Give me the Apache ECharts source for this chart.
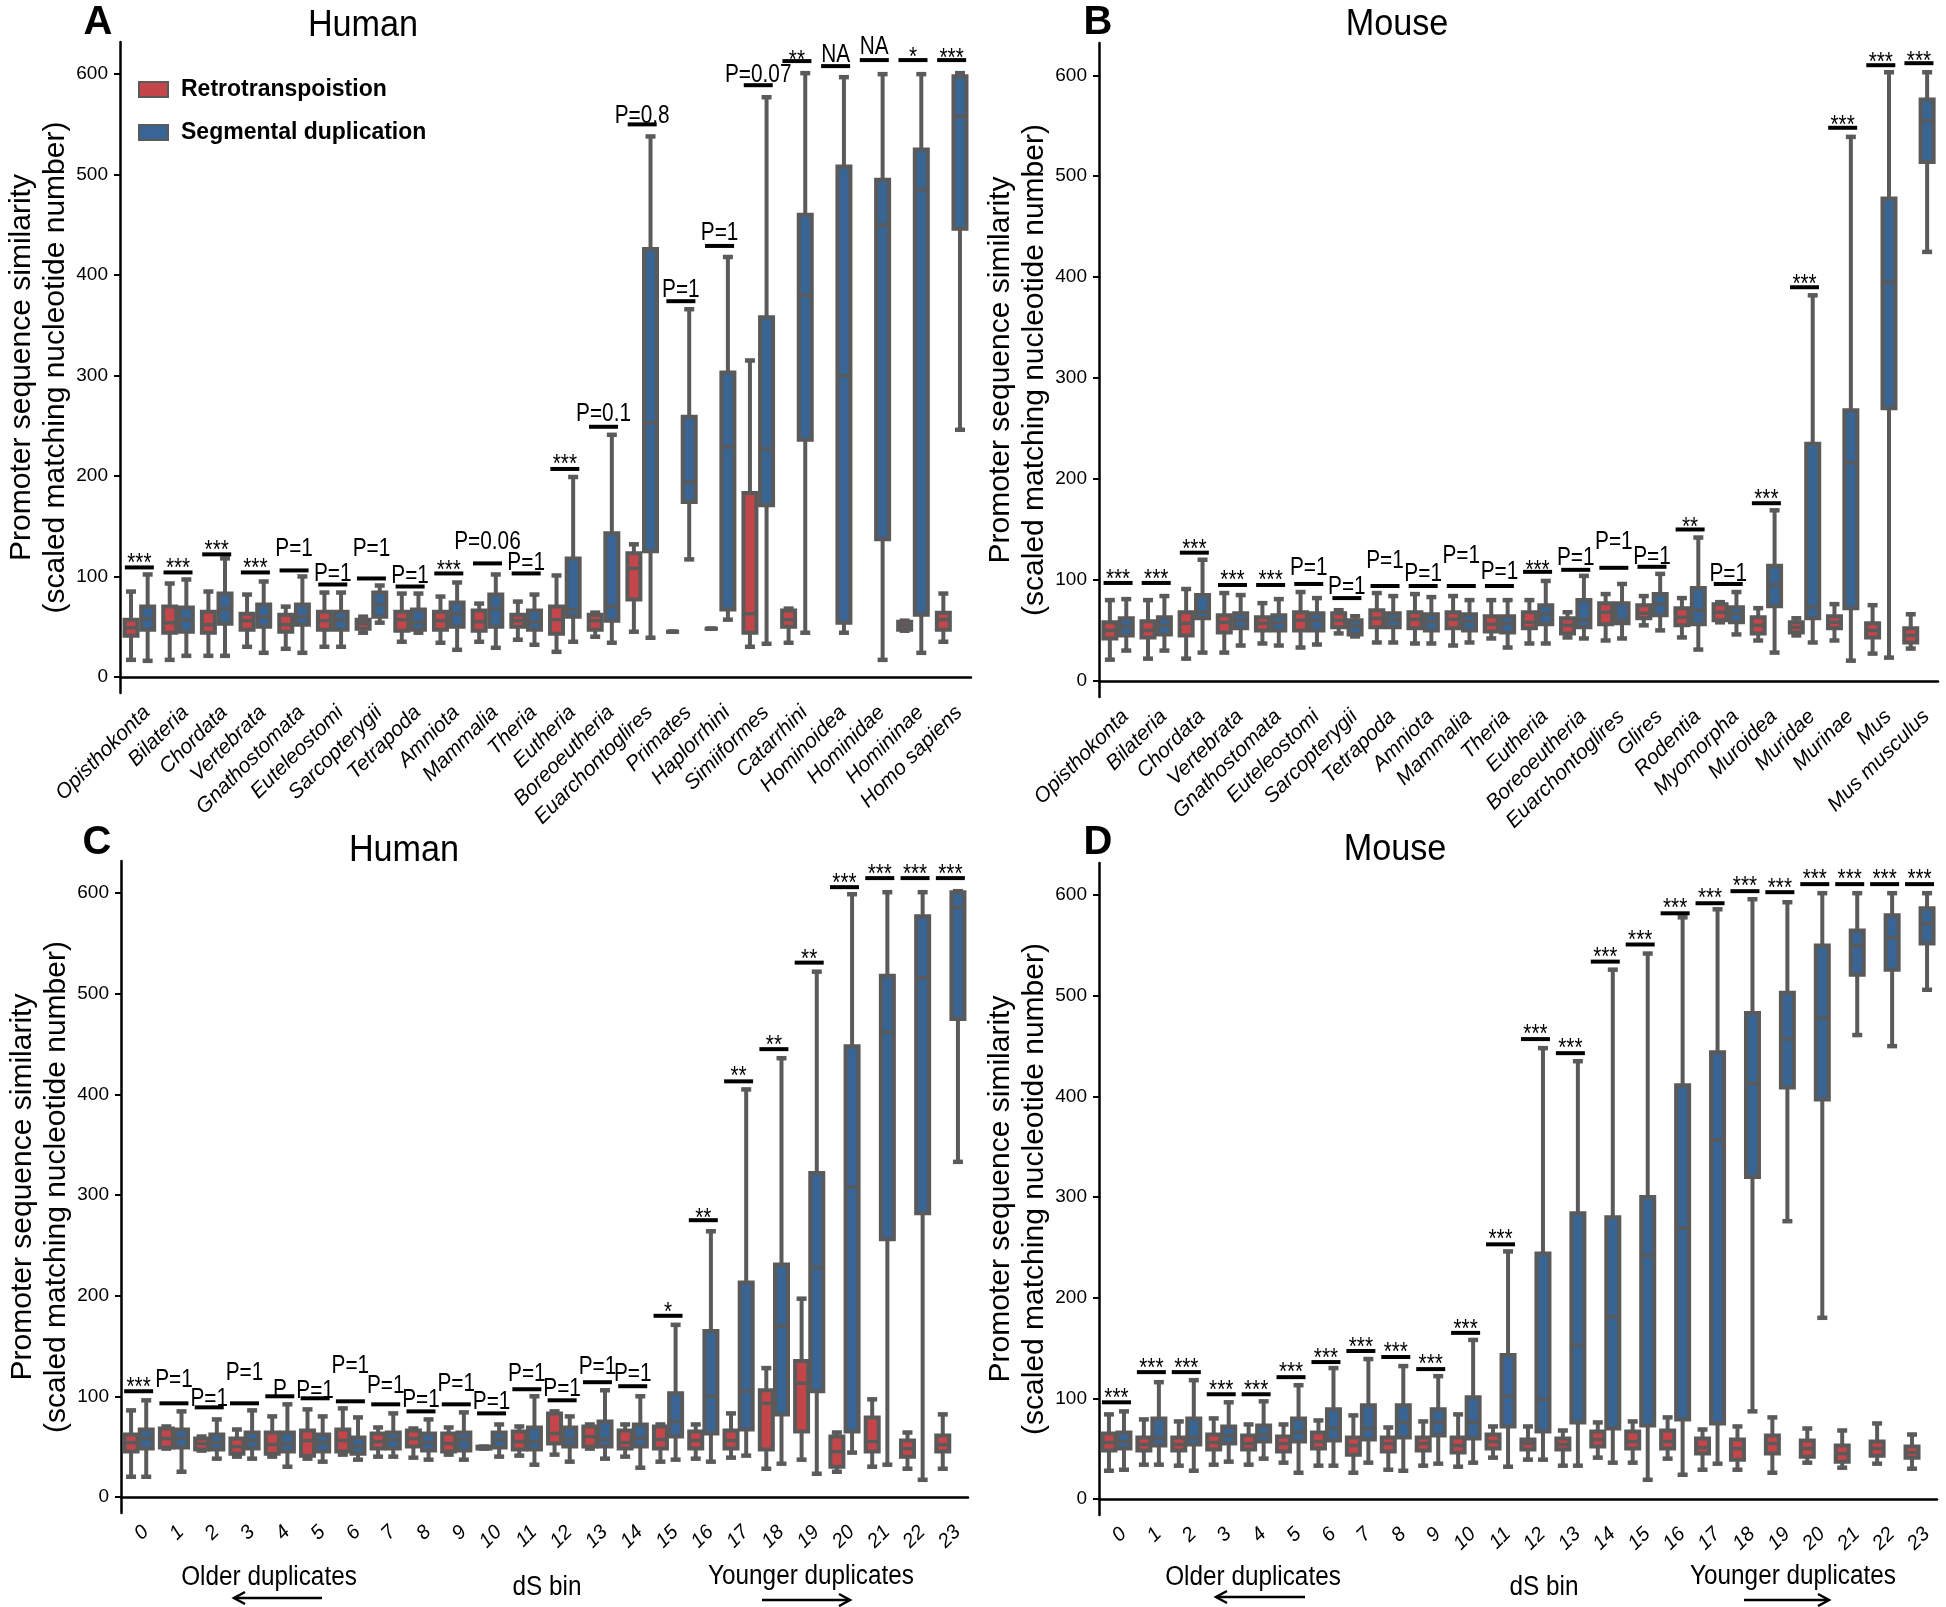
<!DOCTYPE html>
<html><head><meta charset="utf-8">
<script src="https://cdn.jsdelivr.net/npm/echarts@6/dist/echarts.min.js"></script>
<style>html,body{margin:0;padding:0;background:#fff}#c{width:1946px;height:1607px}</style>
</head><body><div id="c"></div>
<script>
// ---------- categories ----------
const catsA = ['Opisthokonta','Bilateria','Chordata','Vertebrata','Gnathostomata','Euteleostomi','Sarcopterygii','Tetrapoda','Amniota','Mammalia','Theria','Eutheria','Boreoeutheria','Euarchontoglires','Primates','Haplorrhini','Simiiformes','Catarrhini','Hominoidea','Hominidae','Homininae','Homo sapiens'];
const catsB = ['Opisthokonta','Bilateria','Chordata','Vertebrata','Gnathostomata','Euteleostomi','Sarcopterygii','Tetrapoda','Amniota','Mammalia','Theria','Eutheria','Boreoeutheria','Euarchontoglires','Glires','Rodentia','Myomorpha','Muroidea','Muridae','Murinae','Mus','Mus musculus'];
const binsCD = ['0','1','2','3','4','5','6','7','8','9','10','11','12','13','14','15','16','17','18','19','20','21','22','23'];
const yTicks = [0,100,200,300,400,500,600];

// ---------- box values: [min, Q1, median, Q3, max] ----------
const retroA = [[17,41,49,57,85],[17,44,54,70,93],[21,44,52,65,85],[30,47,56,63,82],[28,45,52,62,70],[30,47,56,65,84],[44,48,53,57,60],[35,46,57,65,83],[34,47,56,65,80],[35,46,55,66,73],[37,50,56,62,75],[25,43,57,70,101],[40,47,56,62,64],[45,77,108,123,132],[45,45,45,45,45],[48,48,48,48,48],[30,44,63,183,315],[34,50,57,66,68],null,null,[46,47,51,55,56],[35,47,57,64,83]];
const segA = [[16,47,58,70,102],[21,45,57,69,97],[21,53,68,83,118],[24,50,60,72,95],[24,52,60,72,100],[30,47,57,65,84],[54,60,72,84,91],[44,47,54,67,83],[27,50,63,74,94],[29,50,68,82,102],[32,47,55,66,82],[35,60,67,118,199],[34,56,70,143,241],[39,125,253,426,538],[117,174,194,259,366],[57,67,229,303,418],[33,171,227,358,577],[44,236,380,460,601],[44,54,300,508,597],[17,137,450,495,600],[24,62,485,525,600],[246,446,558,598,601]];

const retroB = [[21,42,50,58,80],[22,43,50,59,80],[22,45,57,68,91],[28,48,58,65,87],[37,50,57,63,77],[33,50,60,68,88],[47,53,60,67,70],[38,53,62,70,87],[37,52,61,68,86],[35,52,61,68,84],[42,49,56,64,80],[37,52,58,68,80],[43,47,55,62,68],[40,56,68,77,86],[55,62,67,75,84],[43,55,63,72,82],[58,60,68,76,78],[40,47,55,63,72],[45,48,53,58,62],[40,52,58,64,76],[27,43,50,57,75],[32,38,45,52,66]];
const segB = [[30,45,54,62,81],[30,46,55,63,84],[28,62,68,85,120],[35,52,60,67,85],[35,50,58,65,81],[36,50,60,67,82],[44,46,54,60,64],[38,53,61,67,84],[37,50,59,66,83],[38,50,59,66,80],[33,48,57,64,80],[37,56,66,75,99],[42,53,60,80,104],[42,57,60,77,96],[50,65,76,86,106],[31,56,70,92,142],[46,58,66,73,88],[28,74,95,114,169],[38,62,73,235,382],[20,72,216,268,539],[23,270,395,478,603],[425,514,555,576,603]];

const retroC = [[20,45,54,62,86],[48,49,58,68,70],[46,47,53,58,60],[40,43,50,58,67],[40,43,52,64,80],[38,41,56,66,87],[42,45,56,67,88],[40,48,55,63,69],[39,50,58,66,68],[42,45,53,63,69],[48,48,49,50,50],[41,47,55,65,70],[42,53,63,83,85],[48,50,60,70,72],[40,48,54,66,72],[35,48,57,70,72],[38,48,56,65,72],[39,48,56,66,83],[28,47,93,106,128],[37,65,113,135,197],[25,30,45,60,64],[30,45,55,79,97],[28,40,48,56,64],[28,45,52,61,82]];
const segC = [[20,48,58,67,96],[25,49,58,67,85],[38,47,54,62,77],[38,48,56,64,86],[30,45,53,64,92],[35,45,54,62,80],[37,43,50,59,79],[40,48,57,64,83],[37,46,54,63,77],[37,46,57,64,84],[40,49,57,64,72],[32,47,55,69,100],[35,50,57,69,80],[38,50,57,75,106],[29,50,58,72,100],[37,60,75,103,171],[35,63,100,165,264],[41,67,105,213,405],[33,82,170,231,436],[23,105,228,322,522],[44,65,308,448,599],[32,256,462,518,601],[17,282,516,577,601],[333,475,586,601,602]];

const retroD = [[28,48,56,65,84],[34,48,54,61,79],[33,48,54,61,77],[34,49,56,64,80],[34,49,55,63,74],[36,47,55,62,74],[33,50,57,66,78],[26,44,53,61,83],[29,47,55,61,71],[33,48,55,61,77],[32,46,53,61,84],[41,50,57,64,72],[39,49,55,59,72],[33,49,54,60,68],[41,52,59,67,76],[36,50,57,67,77],[40,50,57,68,81],[29,45,51,60,69],[29,39,50,59,72],[26,45,55,63,81],[36,42,50,58,70],[31,37,45,53,68],[35,43,50,57,75],[30,41,46,52,64]];
const segD = [[29,50,57,66,87],[34,53,60,80,116],[28,54,61,80,118],[37,55,63,72,96],[40,57,64,73,97],[26,57,66,80,113],[33,58,70,89,130],[36,59,70,93,139],[28,61,76,93,132],[35,63,76,89,122],[36,60,76,101,158],[32,72,102,143,246],[39,67,99,244,448],[33,76,153,284,435],[36,70,181,280,526],[19,73,242,300,542],[24,79,269,411,578],[35,75,357,444,586],[87,320,413,483,596],[276,409,457,503,593],[180,397,478,550,602],[461,521,550,565,602],[450,526,558,580,602],[506,552,572,587,602]];

// ---------- significance labels: text, bar level, label level ----------
const sigTextA = ['***','***','***','***','P=1','P=1','P=1','P=1','***','P=0.06','P=1','***','P=0.1','P=0.8','P=1','P=1','P=0.07','**','NA','NA','*','***'];
const sigBarA  = [109,104,122,104,106,92,98,90,103,113,103,207,249,550,374,429,589,613,608,614,614,614];
const sigLblA  = [119,114,131,114,128,103,128,101,112,134,114,217,262,559,385,442,599,619,619,627,622,621];

const sigTextB = ['***','***','***','***','***','P=1','P=1','P=1','P=1','P=1','P=1','***','P=1','P=1','P=1','**','P=1','***','***','***','***','***'];
const sigBarB  = [97,97,127,95,95,96,82,94,94,94,94,108,110,112,113,150,96,176,390,548,610,612];
const sigLblB  = [106,106,136,105,105,112,93,119,106,124,108,115,122,138,123,158,106,185,398,556,618,619];

const sigTextC = ['***','P=1','P=1','P=1','P','P=1','P=1','P=1','P=1','P=1','P=1','P=1','P=1','P=1','P=1','*','**','**','**','**','***','***','***','***'];
const sigBarC  = [105,93,89,93,100,98,95,92,85,92,83,107,96,114,110,180,275,413,445,531,606,615,615,615];
const sigLblC  = [114,116,97,123,106,105,130,110,96,112,94,122,107,129,122,189,282,423,454,540,615,624,624,624];

const sigTextD = ['***','***','***','***','***','***','***','***','***','***','***','***','***','***','***','***','***','***','***','***','***','***','***','***'];
const sigBarD  = [96,126,126,104,104,121,136,147,141,129,165,253,457,443,534,551,582,592,604,603,611,611,611,611];
const sigLblD  = [105,135,135,113,113,131,145,156,151,139,174,263,467,453,544,561,592,602,614,612,621,621,621,621];

// ---------- styles ----------
const GRAY = '#5a5a5a', RED = '#c5464a', BLUE = '#396594';
const SANS = '"Liberation Sans", Arial, Helvetica, sans-serif';
const YNAME = 'Promoter sequence similarity\n(scaled matching nucleotide number)';

const panels = [
  {cats: catsA, retro: retroA, seg: segA, st: sigTextA, sb: sigBarA, sl: sigLblA, grid: {left: 120, top: 42, width: 851, height: 651}},
  {cats: catsB, retro: retroB, seg: segB, st: sigTextB, sb: sigBarB, sl: sigLblB, grid: {left: 1099, top: 43, width: 839, height: 654}},
  {cats: binsCD, retro: retroC, seg: segC, st: sigTextC, sb: sigBarC, sl: sigLblC, grid: {left: 121, top: 861, width: 847, height: 652}},
  {cats: binsCD, retro: retroD, seg: segD, st: sigTextD, sb: sigBarD, sl: sigLblD, grid: {left: 1099, top: 863, width: 838, height: 652}}
];

function boxRender(side, fill) {
  return function (params, api) {
    const i = api.value(0);
    const band = api.size([1, 0])[0];
    const cx = api.coord([i, 0])[0] + side * band * 0.215;
    const y = v => api.coord([i, v])[1];
    const lo = y(api.value(1)), q1 = y(api.value(2)), md = y(api.value(3)), q3 = y(api.value(4)), hi = y(api.value(5));
    const w = 13, cap = 10;
    const ls = {stroke: GRAY, lineWidth: 4};
    const cs = {stroke: GRAY, lineWidth: 4.5};
    return {type: 'group', children: [
      {type: 'line', shape: {x1: cx, y1: hi, x2: cx, y2: q3}, style: ls},
      {type: 'line', shape: {x1: cx, y1: q1, x2: cx, y2: lo}, style: ls},
      {type: 'line', shape: {x1: cx - cap / 2, y1: hi, x2: cx + cap / 2, y2: hi}, style: cs},
      {type: 'line', shape: {x1: cx - cap / 2, y1: lo, x2: cx + cap / 2, y2: lo}, style: cs},
      {type: 'rect', shape: {x: cx - w / 2, y: q3, width: w, height: Math.max(q1 - q3, 0)}, style: {fill: fill, stroke: GRAY, lineWidth: 4}},
      {type: 'line', shape: {x1: cx - w / 2, y1: md, x2: cx + w / 2, y2: md}, style: {stroke: GRAY, lineWidth: 3.5}}
    ]};
  };
}

function sigRender(texts) {
  return function (params, api) {
    const i = api.value(0);
    const p = api.coord([i, api.value(1)]);
    const yt = api.coord([i, api.value(2)])[1];
    const t = texts[params.dataIndex];
    const star = /^\*+$/.test(t);
    return {type: 'group', children: [
      {type: 'line', shape: {x1: p[0] - 14.5, y1: p[1], x2: p[0] + 14.5, y2: p[1]}, style: {stroke: '#000', lineWidth: 4}},
      {type: 'text', x: p[0], y: yt + (star ? 6 : 0), scaleX: 0.8, scaleY: 1,
        style: {text: t, font: '26px ' + SANS, fill: '#000', align: 'center', verticalAlign: 'middle', textAlign: 'center', textVerticalAlign: 'middle'}}
    ]};
  };
}

const grids = [], xAxes = [], yAxes = [], series = [];
panels.forEach((p, k) => {
  grids.push(Object.assign({containLabel: false}, p.grid));
  const numeric = k >= 2;
  xAxes.push({
    type: 'category', gridIndex: k, data: p.cats, boundaryGap: true,
    axisLine: {lineStyle: {color: '#000', width: 2.5}},
    axisTick: {alignWithLabel: true, length: 6, lineStyle: {color: '#000', width: 2}},
    axisLabel: {interval: 0, rotate: 45, align: 'right', verticalAlign: 'top', margin: 9,
      fontStyle: 'italic', fontSize: numeric ? 20 : 21, fontFamily: SANS, color: '#000'},
    splitLine: {show: false}
  });
  yAxes.push({
    type: 'value', gridIndex: k, min: -16, max: 632,
    name: YNAME, nameLocation: 'middle', nameRotate: 90, nameGap: 45,
    nameTextStyle: {fontSize: 30, lineHeight: 34, fontFamily: SANS, color: '#000'},
    axisLine: {show: true, lineStyle: {color: '#000', width: 2.5}},
    axisTick: {show: true, length: 6, customValues: yTicks, lineStyle: {color: '#000', width: 2}},
    axisLabel: {customValues: yTicks, margin: 12, fontSize: 19, fontFamily: SANS, color: '#000'},
    splitLine: {show: false}
  });
  const rd = p.retro.map((d, i) => d ? [i].concat(d) : null).filter(Boolean);
  const sd = p.seg.map((d, i) => d ? [i].concat(d) : null).filter(Boolean);
  series.push({
    name: 'Retrotranspoistion', type: 'custom', xAxisIndex: k, yAxisIndex: k,
    itemStyle: {color: RED}, renderItem: boxRender(-1, RED),
    encode: {x: 0, y: [1, 2, 3, 4, 5]}, data: rd, silent: true
  });
  series.push({
    name: 'Segmental duplication', type: 'custom', xAxisIndex: k, yAxisIndex: k,
    itemStyle: {color: BLUE}, renderItem: boxRender(1, BLUE),
    encode: {x: 0, y: [1, 2, 3, 4, 5]}, data: sd, silent: true
  });
  series.push({
    name: 'sig' + k, type: 'custom', xAxisIndex: k, yAxisIndex: k,
    renderItem: sigRender(p.st), encode: {x: 0, y: [1, 2]},
    data: p.sb.map((b, i) => [i, b, p.sl[i]]), silent: true
  });
});

function txt(x, y, s, font, sx) {
  return {type: 'text', x: x, y: y, scaleX: sx || 1, style: {text: s, font: font, fill: '#000', align: 'center', verticalAlign: 'middle', textAlign: 'center', textVerticalAlign: 'middle'}};
}
function arrow(x1, x2, y) {
  const d = x2 > x1 ? 1 : -1;
  return [
    {type: 'line', shape: {x1: x1, y1: y, x2: x2, y2: y}, style: {stroke: '#000', lineWidth: 2.5}},
    {type: 'polyline', shape: {points: [[x2 - d * 11, y - 6], [x2, y], [x2 - d * 11, y + 6]]}, style: {stroke: '#000', lineWidth: 2.5, fill: null}}
  ];
}
const TITLE = '36px ' + SANS, LETTER = 'bold 40px ' + SANS, NOTE = '27px ' + SANS;
const graphics = [
  txt(98, 23, 'A', LETTER), txt(1098, 23, 'B', LETTER), txt(97, 843, 'C', LETTER), txt(1098, 843, 'D', LETTER),
  txt(363, 26, 'Human', TITLE, 0.95), txt(1397, 25, 'Mouse', TITLE, 0.95), txt(404, 851, 'Human', TITLE, 0.95), txt(1395, 850, 'Mouse', TITLE, 0.95),
  txt(269, 1578, 'Older duplicates', NOTE, 0.9), txt(547, 1588, 'dS bin', NOTE, 0.9), txt(811, 1577, 'Younger duplicates', NOTE, 0.9),
  txt(1253, 1578, 'Older duplicates', NOTE, 0.9), txt(1544, 1588, 'dS bin', NOTE, 0.9), txt(1793, 1577, 'Younger duplicates', NOTE, 0.9)
].concat(arrow(322, 234, 1598), arrow(762, 850, 1600), arrow(1305, 1216, 1597), arrow(1744, 1829, 1600));

const chart = echarts.init(document.getElementById('c'), null, {renderer: 'canvas', width: 1946, height: 1607});
chart.setOption({
  backgroundColor: '#fff',
  animation: false,
  grid: grids, xAxis: xAxes, yAxis: yAxes, series: series,
  legend: {
    left: 133, top: 73, orient: 'vertical', itemWidth: 29, itemHeight: 15, itemGap: 20,
    selectedMode: false, icon: 'rect',
    data: ['Retrotranspoistion', 'Segmental duplication'],
    itemStyle: {borderColor: GRAY, borderWidth: 2},
    textStyle: {fontWeight: 'bold', fontSize: 23, fontFamily: SANS, color: '#000', padding: [0, 0, 0, 8]}
  },
  graphic: graphics
});
</script></body></html>
